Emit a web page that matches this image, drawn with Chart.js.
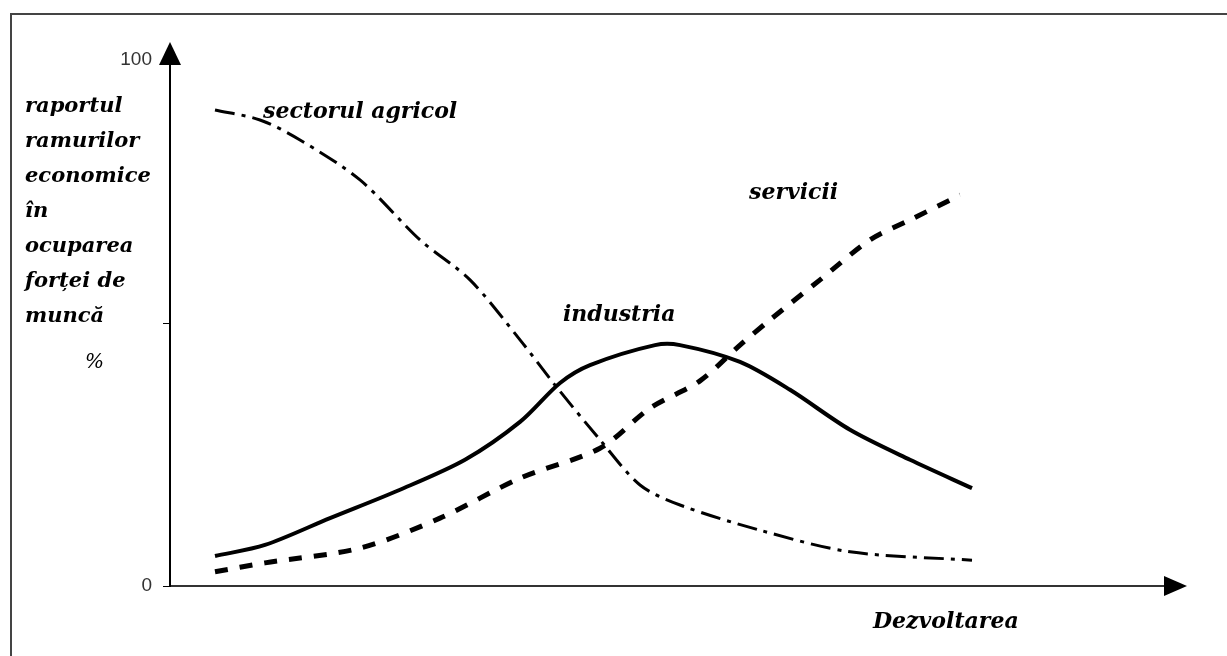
<!DOCTYPE html>
<html>
<head>
<meta charset="utf-8">
<script src="https://cdn.jsdelivr.net/npm/chart.js@4"></script>
<style>
  html, body { margin: 0; padding: 0; background: #fff; }
  #wrap { width: 1227px; height: 656px; }
</style>
</head>
<body>
<div id="wrap"><canvas id="myChart"></canvas></div>
<script>
// values (x = stage of development 0..100, y = % of workforce)
var industryX = [4.5, 9.5, 16, 23, 29.5, 35, 39, 42, 48.5, 51, 57, 62, 68, 74, 80.2];
var industryY = [5.7, 7.8, 12.9, 18.3, 24.0, 31.2, 38.6, 42.0, 45.8, 45.8, 42.6, 37.3, 29.7, 24.0, 18.6];

var servicesX = [4.5, 9.5, 19, 27, 35, 43, 48, 53, 57, 60, 65, 70, 74, 79];
var servicesY = [2.7, 4.4, 7.2, 12.9, 20.5, 26.2, 33.8, 39.0, 45.8, 50.6, 58.2, 65.8, 69.6, 74.3];

var agriX = [4.5, 9, 13, 19, 25, 30, 35, 38.5, 43, 47, 51, 59, 68, 80.2];
var agriY = [90.5, 88.6, 84.8, 77.2, 65.8, 58.2, 46.8, 38.2, 27.8, 19.2, 15.4, 10.6, 6.5, 4.9];

var yTicks = [0, 50, 100];
var yTickLabels = ["0", "", "100"];

var yTitle = ["raportul", "ramurilor", "economice", "în", "ocuparea", "forței de", "muncă"];

let toPoints = (xs, ys) => xs.map((x, i) => ({ x: x, y: ys[i] }));

let labelFont = "bold italic 22px 'DejaVu Serif'";

let decorations = {
    id: "decorations",
    afterDraw: (chart) => {
        var ctx = chart.ctx;
        var area = chart.chartArea;
        var xs = chart.scales.x;
        var ys = chart.scales.y;
        ctx.save();

        // frame: only top and left edges show in the picture
        ctx.strokeStyle = "#444";
        ctx.lineWidth = 2;
        ctx.beginPath();
        ctx.moveTo(11, 656);
        ctx.lineTo(11, 14);
        ctx.lineTo(1227, 14);
        ctx.stroke();

        // arrow heads
        ctx.fillStyle = "#000";
        ctx.beginPath();
        ctx.moveTo(area.left, 42);
        ctx.lineTo(area.left - 11, 65);
        ctx.lineTo(area.left + 11, 65);
        ctx.closePath();
        ctx.fill();
        ctx.beginPath();
        ctx.moveTo(1187, area.bottom);
        ctx.lineTo(1164, area.bottom - 10);
        ctx.lineTo(1164, area.bottom + 10);
        ctx.closePath();
        ctx.fill();

        // texts
        ctx.font = "bold italic 21px 'DejaVu Serif'";
        ctx.fillStyle = "#000";
        ctx.textAlign = "left";
        ctx.textBaseline = "middle";
        yTitle.forEach((line, i) => {
            ctx.fillText(line, 25, 107 + i * 35);
        });
        ctx.font = "italic 20px 'DejaVu Serif'";
        ctx.fillText("%", 85, 363);

        ctx.font = labelFont;
        ctx.fillText("sectorul agricol", xs.getPixelForValue(9.3), ys.getPixelForValue(90.1));
        ctx.fillText("industria", xs.getPixelForValue(39.3), ys.getPixelForValue(51.5));
        ctx.fillText("servicii", xs.getPixelForValue(57.9), ys.getPixelForValue(74.7));
        ctx.fillText("Dezvoltarea", 873, 622);
        ctx.restore();
    },
};

let drawChart = () => {
    var ctx = document.getElementById("myChart").getContext("2d");
    return new Chart(ctx, {
        type: "scatter",
        data: {
            datasets: [
                {
                    label: "industria",
                    data: toPoints(industryX, industryY),
                    showLine: true,
                    borderColor: "#000",
                    borderWidth: 4,
                    tension: 0.3,
                    pointRadius: 0,
                },
                {
                    label: "servicii",
                    data: toPoints(servicesX, servicesY),
                    showLine: true,
                    borderColor: "#000",
                    borderWidth: 5,
                    borderDash: [13, 12],
                    tension: 0.3,
                    pointRadius: 0,
                },
                {
                    label: "sectorul agricol",
                    data: toPoints(agriX, agriY),
                    showLine: true,
                    borderColor: "#000",
                    borderWidth: 3,
                    borderDash: [20, 7, 4, 7],
                    tension: 0.3,
                    pointRadius: 0,
                },
            ],
        },
        options: {
            responsive: false,
            animation: false,
            layout: {
                padding: { left: 0, top: 60, right: 57, bottom: 0 },
            },
            plugins: {
                legend: { display: false },
                tooltip: { enabled: false },
            },
            scales: {
                x: {
                    type: "linear",
                    min: 0,
                    max: 100,
                    grid: { display: false },
                    border: { display: true, color: "#333", width: 2 },
                    ticks: { display: false },
                    afterFit: (scale) => {
                        scale.height = 70;
                    },
                },
                y: {
                    min: 0,
                    max: 100,
                    afterBuildTicks: (scale) => {
                        scale.ticks = yTicks.map((v) => ({ value: v }));
                    },
                    grid: {
                        drawOnChartArea: false,
                        drawTicks: true,
                        tickLength: 7,
                        color: "#000",
                    },
                    border: { display: true, color: "#000", width: 2 },
                    ticks: {
                        padding: 11,
                        color: "#333",
                        font: { family: "'Liberation Sans'", size: 19 },
                        callback: (value) => yTickLabels[yTicks.indexOf(value)],
                    },
                    afterFit: (scale) => {
                        scale.width = 170;
                    },
                },
            },
        },
        plugins: [decorations],
    });
};

var c = document.getElementById("myChart");
c.width = 1227;
c.height = 656;
drawChart();
</script>
</body>
</html>
